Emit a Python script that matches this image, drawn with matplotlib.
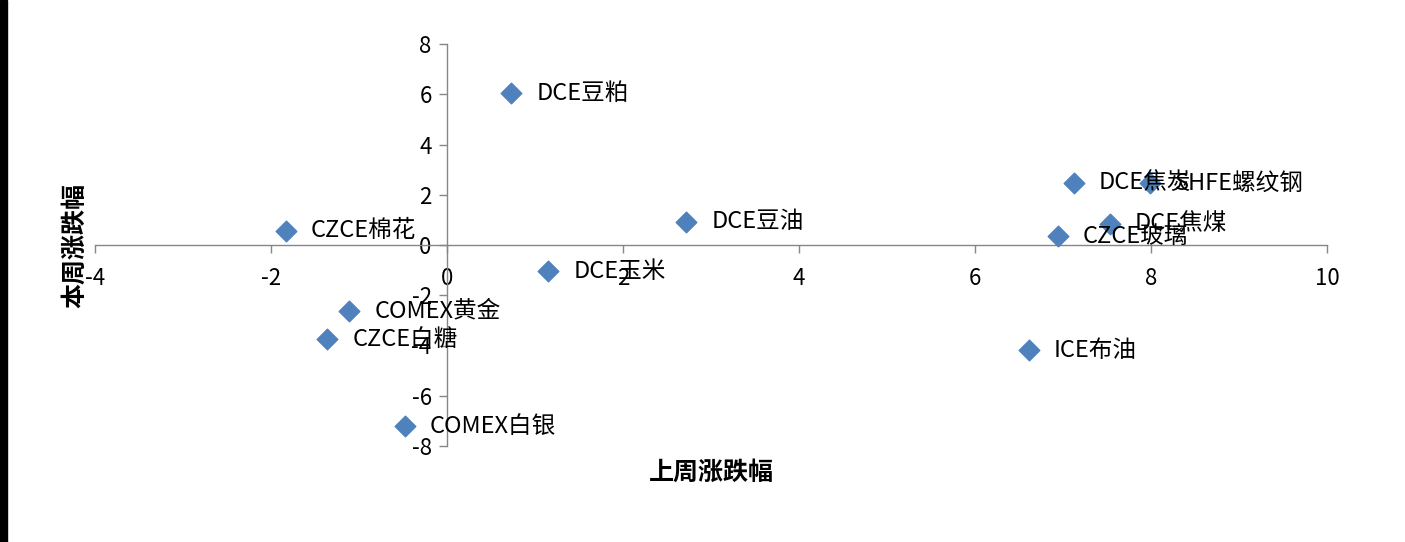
import matplotlib.pyplot as plt
from matplotlib.patches import Rectangle

plt.rcParams['font.family'] = ['Noto Sans CJK SC', 'DejaVu Sans']
plt.rcParams['axes.unicode_minus'] = False

# data
names = ['DCE豆粕', 'DCE焦炭', 'SHFE螺纹钢', 'DCE焦煤', 'CZCE玻璃', 'DCE豆油',
         'CZCE棉花', 'DCE玉米', 'COMEX黄金', 'CZCE白糖', 'ICE布油', 'COMEX白银']
last_week = [0.73, 7.12, 7.99, 7.53, 6.94, 2.72, -1.83, 1.15, -1.11, -1.36, 6.61, -0.48]
this_week = [6.05, 2.47, 2.47, 0.84, 0.36, 0.92, 0.56, -1.04, -2.63, -3.75, -4.18, -7.21]
xticks = [-4, -2, 0, 2, 4, 6, 8, 10]
yticks = [-8, -6, -4, -2, 0, 2, 4, 6, 8]

fig = plt.figure(figsize=(14.05, 5.42), dpi=100)
ax = fig.add_axes([95 / 1405, 1 - 446 / 542, 1232 / 1405, 402 / 542])

ax.scatter(last_week, this_week, marker='D', s=110, color='#4F81BD', zorder=3)
for n, xv, yv in zip(names, last_week, this_week):
    ax.annotate(n, (xv, yv), xytext=(18, 0), textcoords='offset points',
                va='center', ha='left', fontsize=17, color='#000000', zorder=4)

ax.set_xlim(-4, 10)
ax.set_ylim(-8, 8)
ax.set_xticks(xticks)
ax.set_yticks(yticks)
ax.spines['left'].set_position(('data', 0))
ax.spines['bottom'].set_position(('data', 0))
ax.spines['right'].set_visible(False)
ax.spines['top'].set_visible(False)
for s in ['left', 'bottom']:
    ax.spines[s].set_color('#868686')
    ax.spines[s].set_linewidth(1)
ax.tick_params(axis='both', colors='#868686', labelcolor='black', labelsize=16,
               direction='out', length=6, width=1)
ax.tick_params(axis='x', pad=10)
ax.tick_params(axis='y', pad=5)
ax.patch.set_alpha(0)

fig.text(711 / 1405, 1 - 473 / 542, '上周涨跌幅', ha='center', va='center',
         fontsize=18, fontweight='bold')
fig.text(75 / 1405, 1 - 245 / 542, '本周涨跌幅', ha='center', va='center',
         fontsize=18, fontweight='bold', rotation=90)

fig.patches.append(Rectangle((0, 0), 7 / 1405, 1, transform=fig.transFigure,
                             color='black', zorder=0))

fig.savefig('out.png', dpi=100)
